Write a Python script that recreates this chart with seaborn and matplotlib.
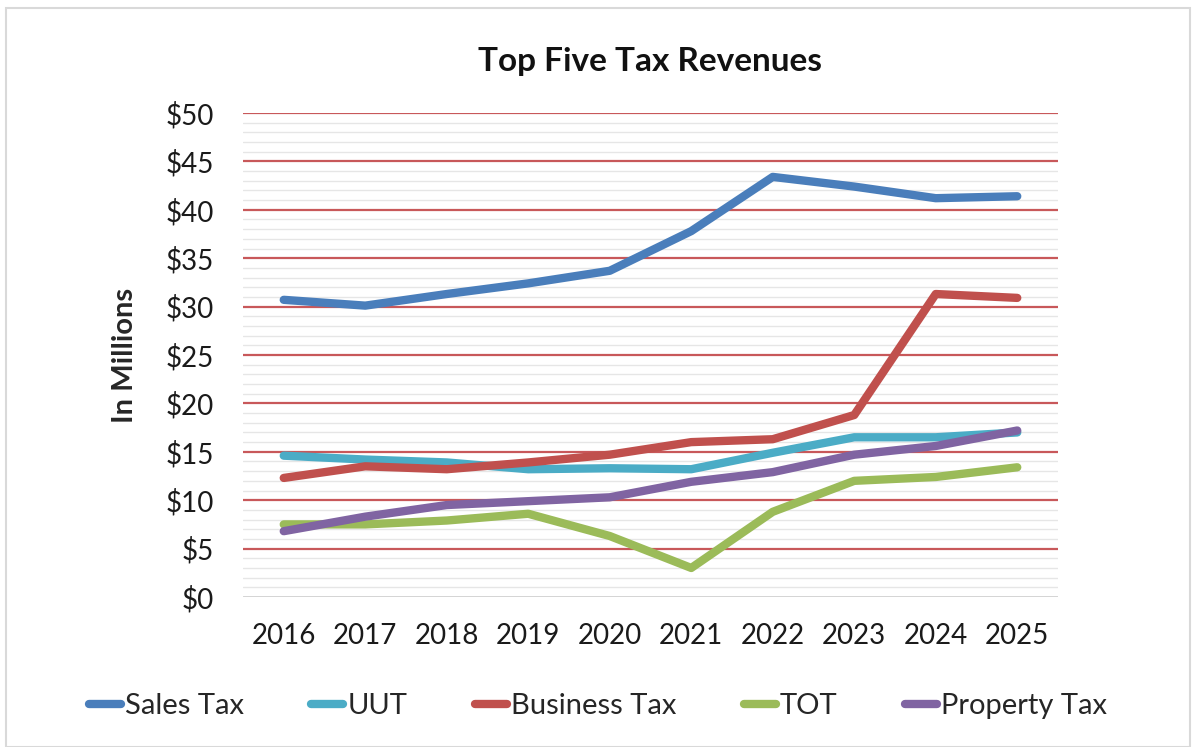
import matplotlib
matplotlib.use("Agg")
import matplotlib.pyplot as plt
from matplotlib.patches import Rectangle
from matplotlib.ticker import MultipleLocator, FuncFormatter
import seaborn as sns
import pandas as pd

# Fiscal years and revenue series (millions of dollars)
years = ["2016", "2017", "2018", "2019", "2020", "2021", "2022", "2023", "2024", "2025"]
sales_tax = [30.7, 30.1, 31.3, 32.4, 33.7, 37.8, 43.4, 42.4, 41.2, 41.4]
uut = [14.6, 14.2, 13.9, 13.2, 13.3, 13.2, 14.9, 16.5, 16.5, 17.0]
business_tax = [12.3, 13.5, 13.2, 13.9, 14.7, 16.0, 16.3, 18.8, 31.3, 30.9]
tot = [7.5, 7.5, 7.9, 8.6, 6.3, 3.0, 8.8, 12.0, 12.4, 13.4]
property_tax = [6.8, 8.3, 9.5, 9.9, 10.3, 11.9, 12.9, 14.7, 15.6, 17.2]

series_names = ["Sales Tax", "UUT", "Business Tax", "TOT", "Property Tax"]
series_values = [sales_tax, uut, business_tax, tot, property_tax]
series_colors = ["#4A7EBB", "#4BACC6", "#C0504D", "#9BBB59", "#8064A2"]

rows = []
for name, vals in zip(series_names, series_values):
    for i, (yr, v) in enumerate(zip(years, vals)):
        rows.append({"pos": i, "year": yr, "value": v, "series": name})
df = pd.DataFrame(rows)

sns.set_theme(style="white")
plt.rcParams["font.family"] = ["Lato", "DejaVu Sans"]

fig = plt.figure(figsize=(11.96, 7.47), dpi=100)
ax = fig.add_axes([243 / 1196, 1 - 597 / 747, (1058 - 243) / 1196, (597 - 113) / 747])

# Gridlines: light minor lines every $1, red major lines every $5
for v in range(1, 50):
    if v % 5:
        ax.axhline(v, color="#E6E6E6", lw=1.0, zorder=0)
for v in range(5, 51, 5):
    ax.axhline(v, color="#C8585A", lw=1.6, zorder=1)
ax.axhline(0, color="#D0D0D0", lw=2.0, zorder=1)

sns.lineplot(data=df, x="pos", y="value", hue="series", hue_order=series_names,
             palette=series_colors, lw=6, ax=ax, legend=False, zorder=3,
             solid_capstyle="round", solid_joinstyle="round")

ax.set_xlim(-0.5, len(years) - 0.5)
ax.set_ylim(0, 50)
ax.set_xticks(range(len(years)))
ax.set_xticklabels(years)
ax.yaxis.set_major_locator(MultipleLocator(5))
ax.yaxis.set_major_formatter(FuncFormatter(lambda v, _: f"${v:.0f}"))
ax.tick_params(axis="both", labelsize=20, colors="#1a1a1a", length=0)
ax.tick_params(axis="x", pad=19)
ax.tick_params(axis="y", pad=21)
for s in ax.spines.values():
    s.set_visible(False)
ax.set_xlabel("")
ax.set_ylabel("In Millions", fontsize=21, fontweight="bold", labelpad=20)

ax.set_title("Top Five Tax Revenues", fontsize=24, fontweight="bold", pad=30, color="#111111")

handles = [plt.Line2D([0], [0], color=c, lw=6, solid_capstyle="round") for c in series_colors]
fig.legend(handles, series_names, loc="center", bbox_to_anchor=(0.5, 1 - 706 / 747),
           ncol=5, frameon=False, fontsize=21, handlelength=1.1, handletextpad=0.15,
           columnspacing=2.3)

# Thin light frame around the chart
fig.patches.append(Rectangle((6 / 1196, 0), 1184 / 1196, 1 - 8 / 747,
                             transform=fig.transFigure, fill=False,
                             edgecolor="#D9D9D9", lw=1.5))

fig.savefig("out.png", dpi=100, facecolor="white")
